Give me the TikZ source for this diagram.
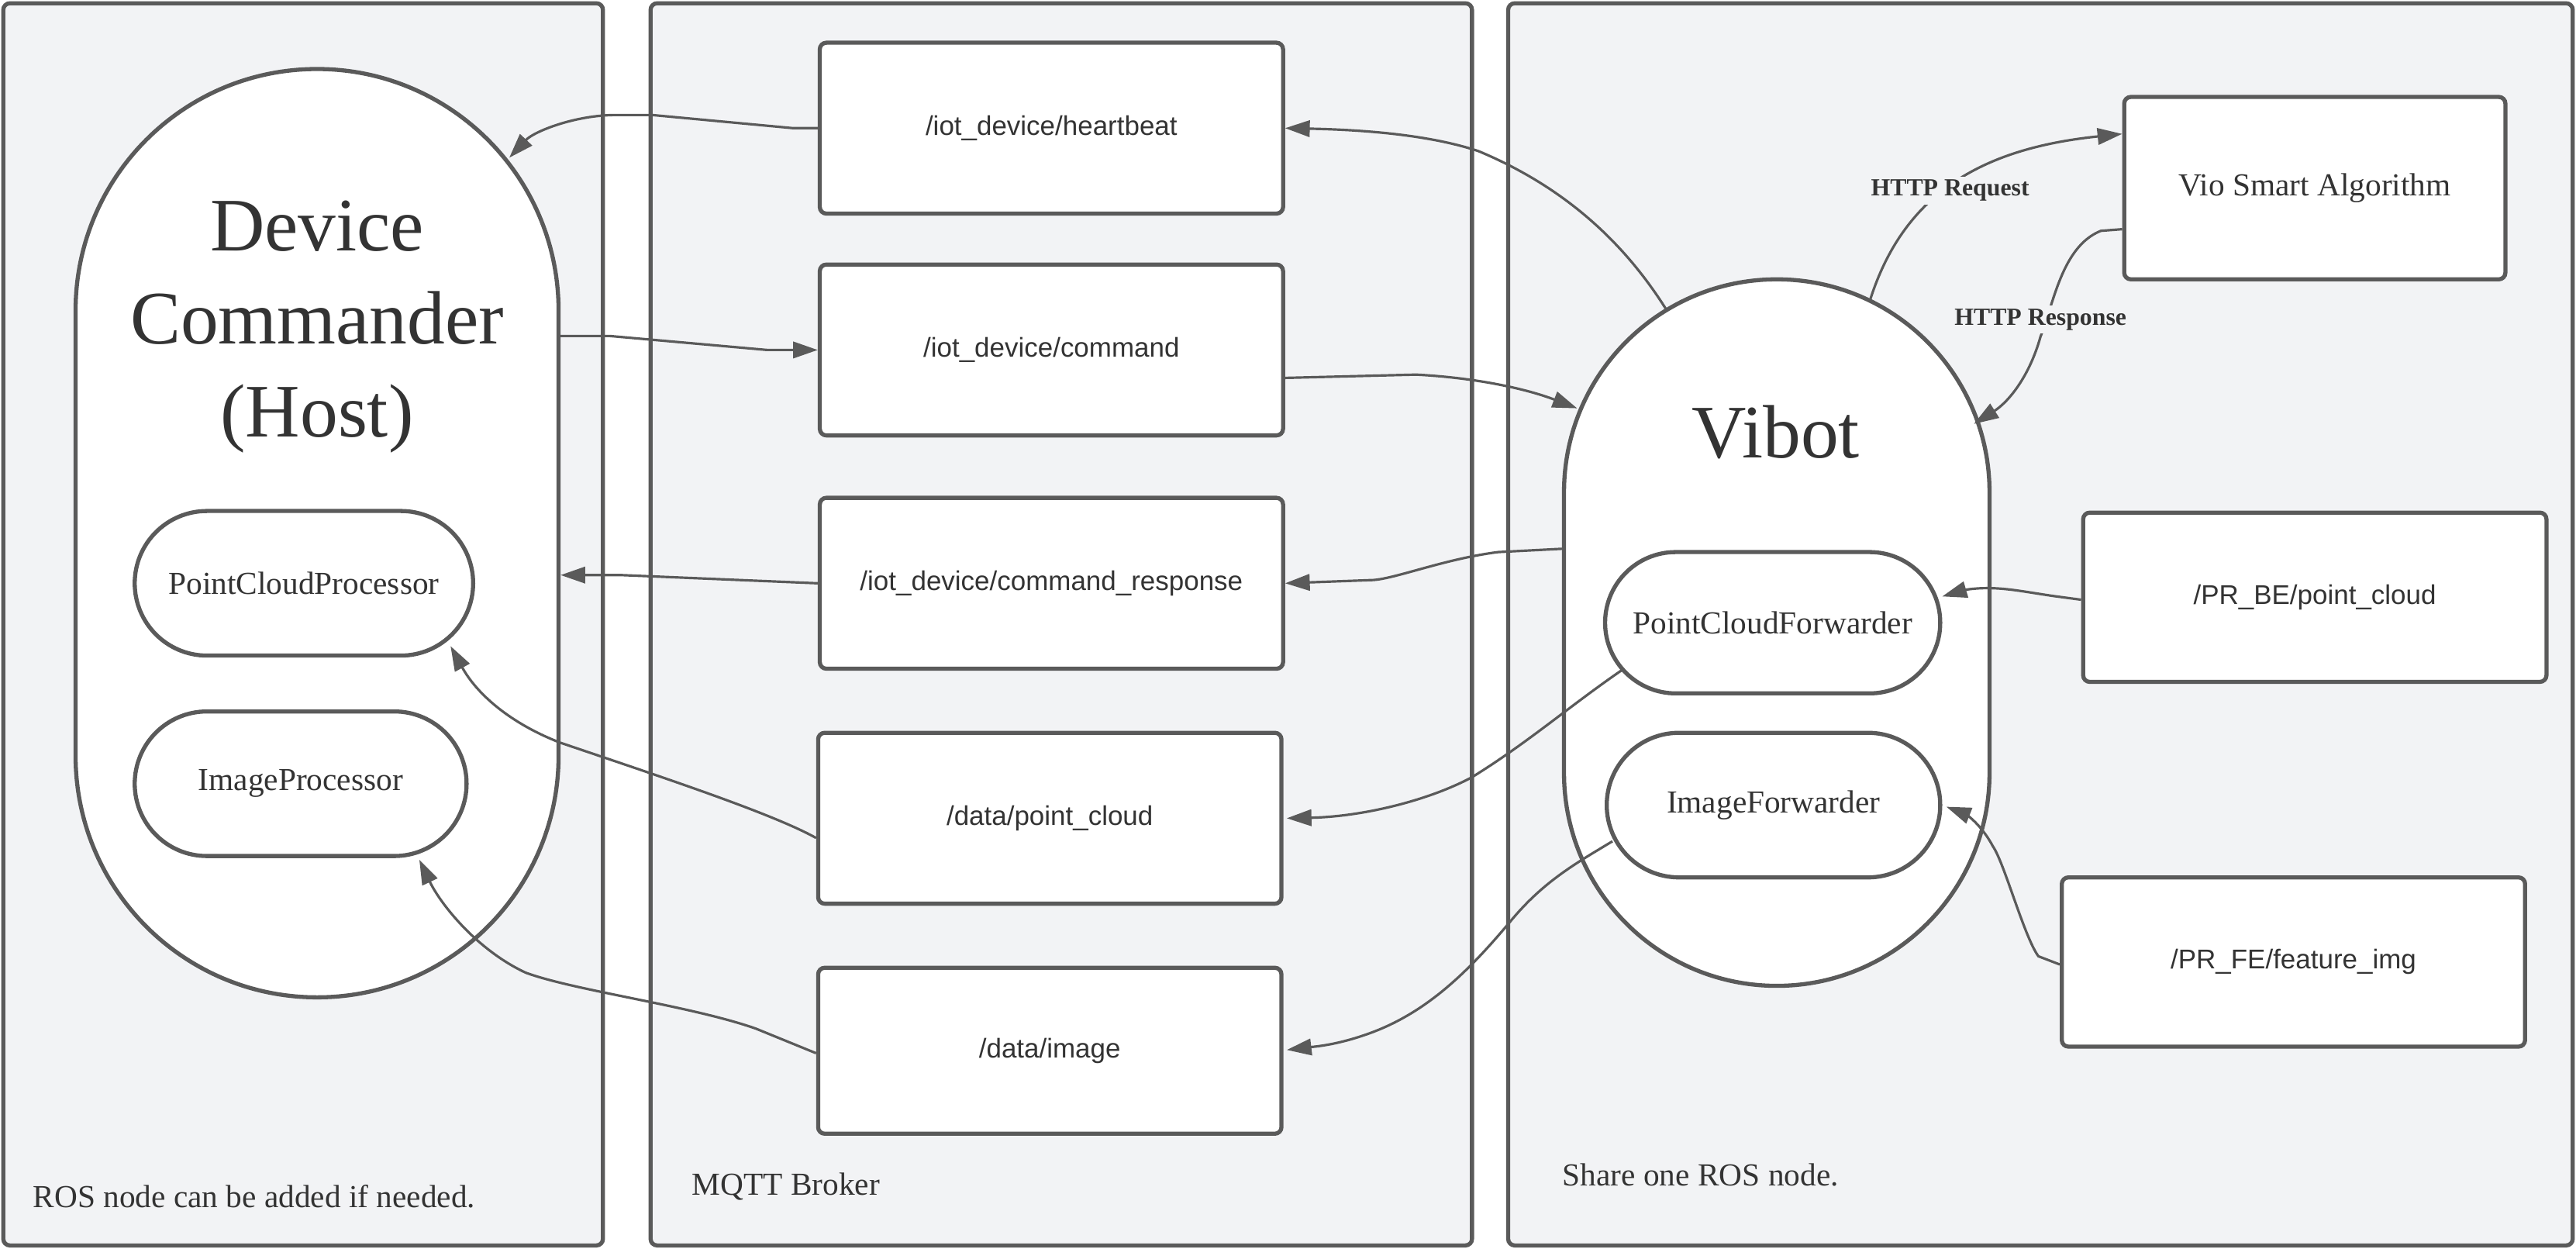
\documentclass[tikz,border=0pt]{standalone}
\usepackage{fontspec}
\setmainfont{Liberation Serif}
\setsansfont{Liberation Sans}
\usetikzlibrary{arrows.meta,calc}
\definecolor{panelfill}{HTML}{F2F3F5}
\definecolor{edge}{HTML}{5A5A5A}
\definecolor{txt}{HTML}{333333}
\begin{document}
\begin{tikzpicture}[x=1pt,y=-1pt,
 panel/.style={draw=edge,fill=panelfill,line width=2.5pt,rounded corners=4pt},
 topic/.style={draw=edge,fill=white,line width=2.5pt,rounded corners=4pt,minimum width=282pt,minimum height=104pt,inner sep=0pt,font=\sffamily\fontsize{16.5}{19}\selectfont,text=txt},
 pill/.style={draw=edge,fill=white,line width=2.5pt,inner sep=0pt,font=\fontsize{19.5}{23}\selectfont,text=txt},
 plain/.style={inner sep=0pt,text=txt},
 note/.style={inner sep=0pt,text=txt,anchor=west,font=\fontsize{19.5}{23}\selectfont},
 conn/.style={draw=edge,line width=1.5pt,-{Triangle[length=15pt,width=10pt]}},
 httplabel/.style={fill=panelfill,inner sep=2pt,text=txt,font=\bfseries\fontsize{15}{18}\selectfont}]
\useasboundingbox (0,0) rectangle (1568,760);
% panels
\draw[panel] (2,2) rectangle (367,758);
\draw[panel] (396,2) rectangle (896,758);
\draw[panel] (918,2) rectangle (1566,758);
\node[note] (n1) at (20,728) {ROS node can be added if needed.};
\node[note] (n2) at (421,722) {MQTT Broker};
\node[note] (n3) at (951,715) {Share one ROS node.};
% device commander
\node[pill,minimum width=294pt,minimum height=565pt,rounded corners=147pt] (dc) at (193,324.5) {};
\node[plain,align=center,font=\fontsize{46}{56.5}\selectfont] (dct) at (193,199) {Device\\Commander\\(Host)};
\node[pill,minimum width=206pt,minimum height=88pt,rounded corners=44pt] (pcp) at (185,355) {PointCloudProcessor};
\node[pill,minimum width=202pt,minimum height=88pt,rounded corners=44pt] (ip) at (183,477) {ImageProcessor};
% broker topics
\node[topic] (hb) at (640,78) {/iot\_device/heartbeat};
\node[topic] (cmd) at (640,213) {/iot\_device/command};
\node[topic] (cr) at (640,355) {/iot\_device/command\_response};
\node[topic] (pc) at (639,498) {/data/point\_cloud};
\node[topic,minimum height=101pt] (img) at (639,639.5) {/data/image};
% vibot
\node[pill,minimum width=259pt,minimum height=430pt,rounded corners=129.5pt] (vib) at (1081.5,385) {};
\node[plain,font=\fontsize{46}{56}\selectfont] (vibt) at (1081,263) {Vibot};
\node[pill,minimum width=204pt,minimum height=86pt,rounded corners=43pt] (pcf) at (1079,379) {PointCloudForwarder};
\node[pill,minimum width=203pt,minimum height=88pt,rounded corners=44pt] (imf) at (1079.5,490) {ImageForwarder};
\node[topic,minimum width=232pt,minimum height=111pt,font=\fontsize{19.5}{23}\selectfont] (vio) at (1409,114.5) {Vio Smart Algorithm};
\node[topic,minimum height=103pt] (prbe) at (1409,363.5) {/PR\_BE/point\_cloud};
\node[topic,minimum height=103pt] (prfe) at (1396,585.5) {/PR\_FE/feature\_img};
% connectors
\draw[conn] (hb.west) -- ++(-15,0) -- (397,70) -- (375,70) .. controls (350,70) and (325,80) .. ($(dc.center)+(117,-228.5)$);
\draw[conn] ($(dc.east)+(0,-120)$) -- ++(30,0) -- (467,213) -- (cmd.west);
\draw[conn] (cr.west) -- (378,350) -- ($(dc.east)+(0,25.5)$);
\draw[conn] ($(pc.west)+(0,12)$) .. controls (470,495) and (400,472) .. (341,452) .. controls (310,440) and (290,422) .. ($(pcp.south east)+(-15,-7)$);
\draw[conn] ($(img.west)+(0,1.5)$) -- (460,626) .. controls (420,612) and (350,603) .. (320,592) .. controls (290,578) and (268,550) .. ($(ip.south east)+(-30,1)$);
\draw[conn] ($(vib.center)+(-67.5,-197)$) .. controls (990,150) and (955,115) .. (900,92) .. controls (870,82) and (830,79) .. (hb.east);
\draw[conn] ($(cmd.east)+(0,17)$) -- (862,228) .. controls (900,230) and (930,237) .. ($(vib.center)+(-121.5,-136.5)$);
\draw[conn] ($(vib.west)+(0,-51)$) -- (912,336) .. controls (880,340) and (850,352) .. (836,353) -- (cr.east);
\draw[conn] ($(pcf.center)+(-92,29)$) .. controls (955,430) and (930,452) .. (896,473) .. controls (870,487) and (830,497) .. ($(pc.east)+(2,0)$);
\draw[conn] ($(imf.center)+(-98,22)$) .. controls (960,525) and (940,536) .. (920,560) .. controls (895,590) and (870,615) .. (836,628) .. controls (815,636) and (800,637) .. ($(img.east)+(2,-0.5)$);
\draw[conn] ($(vib.center)+(57,-203)$) .. controls (1160,115) and (1210,90) .. ($(vio.west)+(0,-33)$);
\node[httplabel] (req) at (1187,116) {HTTP Request};
\draw[conn] ($(vio.west)+(0,25)$) -- ++(-13,1) .. controls (1255,150) and (1250,185) .. (1242,205) .. controls (1235,230) and (1222,245) .. ($(vib.center)+(120,-127)$);
\node[httplabel] (resp) at (1242,194.5) {HTTP Response};
\draw[conn] ($(prbe.west)+(0,1.5)$) -- ++(-15,-2) .. controls (1230,360) and (1215,356) .. (1196,359) -- ($(pcf.east)+(0,-16)$);
\draw[conn] ($(prfe.west)+(0,1.5)$) -- ++(-13,-5) .. controls (1232,570) and (1220,525) .. (1213,515) .. controls (1205,500) and (1195,495) .. ($(imf.east)+(2.5,1)$);
\end{tikzpicture}
\end{document}
